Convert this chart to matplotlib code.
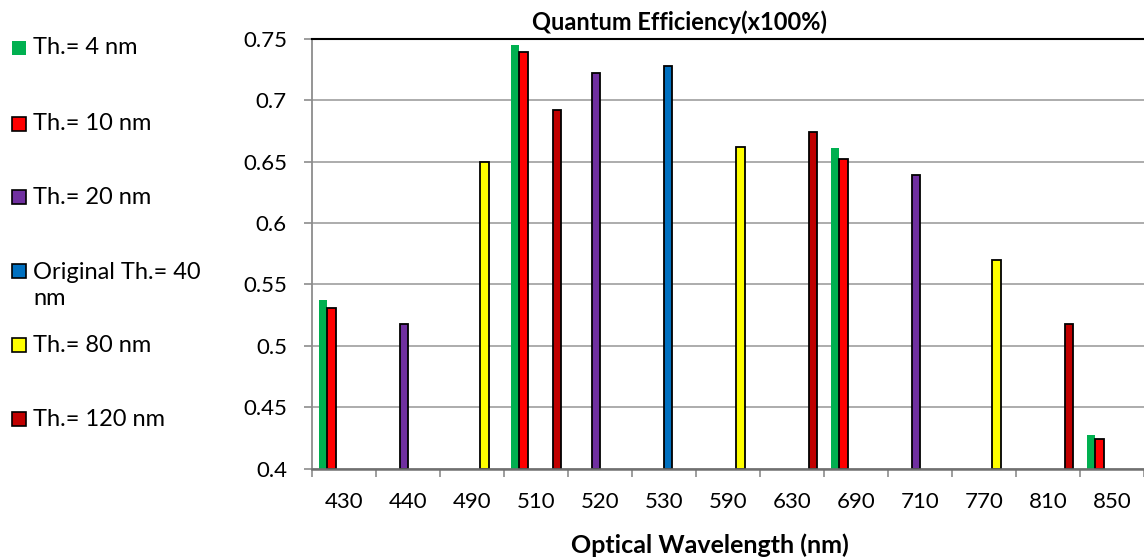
import numpy as np
import matplotlib
matplotlib.use("Agg")
import matplotlib.pyplot as plt
from matplotlib.patches import Rectangle

plt.rcParams['font.family'] = ['Lato', 'DejaVu Sans']
plt.rcParams['font.size'] = 16

wavelengths = ['430', '440', '490', '510', '520', '530', '590',
               '630', '690', '710', '770', '810', '850']

series_names = ['Th.= 4 nm', 'Th.= 10 nm', 'Th.= 20 nm',
                'Original Th.= 40\nnm', 'Th.= 80 nm', 'Th.= 120 nm']
series_colors = ['#00B050', '#FF0000', '#7030A0', '#0070C0', '#FFFF00', '#C00000']

# NaN = no measurement at that wavelength
nan = np.nan
th4   = [0.537, nan, nan, 0.745, nan, nan, nan, nan, 0.661, nan, nan, nan, 0.427]
th10  = [0.531, nan, nan, 0.739, nan, nan, nan, nan, 0.652, nan, nan, nan, 0.424]
th20  = [nan, 0.518, nan, nan, 0.722, nan, nan, nan, nan, 0.639, nan, nan, nan]
th40  = [nan, nan, nan, nan, nan, 0.728, nan, nan, nan, nan, nan, nan, nan]
th80  = [nan, nan, 0.650, nan, nan, nan, 0.662, nan, nan, nan, 0.570, nan, nan]
th120 = [nan, nan, nan, 0.692, nan, nan, nan, 0.674, nan, nan, nan, 0.518, nan]
all_series = [th4, th10, th20, th40, th80, th120]

fig = plt.figure(figsize=(11.44, 5.6), dpi=100)
ax = fig.add_axes([312 / 1144, 1 - 468.5 / 560, 1 - 312 / 1144, (468.5 - 39) / 560])

x = np.arange(len(wavelengths))
width = 0.13
for j, (vals, col) in enumerate(zip(all_series, series_colors)):
    vals = np.array(vals)
    ok = ~np.isnan(vals)
    off = (j - 2.5) * width
    if j == 0:
        ax.bar(x[ok] + off, vals[ok] - 0.4, width, bottom=0.4, color=col,
               edgecolor='none', zorder=3)
    else:
        ax.bar(x[ok] + off, vals[ok] - 0.4, width, bottom=0.4, color=col,
               edgecolor='black', linewidth=1.3, zorder=3)

ax.set_ylim(0.4, 0.75)
ax.set_xlim(-0.5, len(wavelengths) - 0.5)
ax.set_yticks([0.4, 0.45, 0.5, 0.55, 0.6, 0.65, 0.7, 0.75])
ax.set_yticklabels(['0.4', '0.45', '0.5', '0.55', '0.6', '0.65', '0.7', '0.75'])
ax.set_xticks(x)
ax.set_xticklabels(wavelengths)
ax.set_xticks(np.arange(len(wavelengths) + 1) - 0.5, minor=True)
ax.tick_params(axis='x', which='major', length=0, pad=17)
ax.tick_params(axis='x', which='minor', length=6, width=1.2, color='#8c8c8c')
ax.tick_params(axis='y', length=6, width=1.2, color='#8c8c8c', pad=12)
ax.yaxis.grid(True, color='#a6a6a6', linewidth=1.3, zorder=0)

ax.spines['right'].set_visible(False)
ax.spines['top'].set_color('black')
ax.spines['top'].set_linewidth(1.5)
ax.spines['left'].set_color('#8c8c8c')
ax.spines['left'].set_linewidth(1.3)
ax.spines['bottom'].set_color('#707070')
ax.spines['bottom'].set_linewidth(1.8)
ax.spines['bottom'].set_zorder(4)

fig.text(680 / 1144, 1 - 22 / 560, 'Quantum Efficiency(x100%)', ha='center', va='center',
         fontsize=17, fontweight='bold')
fig.text(710 / 1144, 1 - 545 / 560, 'Optical Wavelength (nm)', ha='center', va='center',
         fontsize=18, fontweight='bold')

# legend drawn by hand: fixed row pitch, wrapped label does not push rows down
row_y = [48, 124, 197, 271, 345, 419]
for name, col, yy in zip(series_names, series_colors, row_y):
    ec = 'none' if col == '#00B050' else 'black'
    fig.patches.append(Rectangle((12 / 1144, 1 - (yy + 7) / 560), 14 / 1144, 14 / 560,
                                 transform=fig.transFigure, facecolor=col,
                                 edgecolor=ec, linewidth=1.2))
    ty = yy + 14.5 if '\n' in name else yy
    fig.text(33 / 1144, 1 - ty / 560, name, ha='left', va='center', fontsize=17,
             linespacing=1.3)

fig.savefig('out.png', dpi=100)
